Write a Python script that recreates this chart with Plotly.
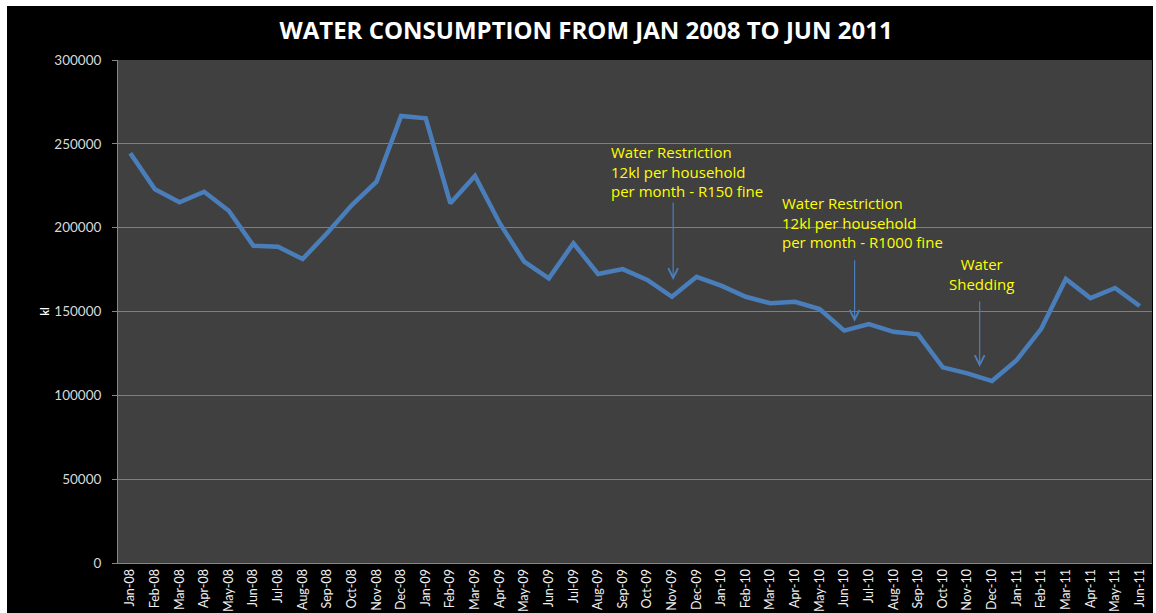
import plotly.graph_objects as go

# Monthly water consumption (kl)
months = [
    "Jan-08", "Feb-08", "Mar-08", "Apr-08", "May-08", "Jun-08", "Jul-08", "Aug-08",
    "Sep-08", "Oct-08", "Nov-08", "Dec-08", "Jan-09", "Feb-09", "Mar-09", "Apr-09",
    "May-09", "Jun-09", "Jul-09", "Aug-09", "Sep-09", "Oct-09", "Nov-09", "Dec-09",
    "Jan-10", "Feb-10", "Mar-10", "Apr-10", "May-10", "Jun-10", "Jul-10", "Aug-10",
    "Sep-10", "Oct-10", "Nov-10", "Dec-10", "Jan-11", "Feb-11", "Mar-11", "Apr-11",
    "May-11", "Jun-11",
]
consumption = [
    244400, 222900, 215100, 221400, 210100, 189200, 188600, 181300,
    196800, 213500, 227400, 266600, 265200, 214500, 230800, 202800,
    179700, 169800, 190700, 172400, 175300, 168800, 158800, 170700,
    165400, 158800, 154900, 155800, 151500, 138600, 142500, 137900,
    136400, 116700, 113100, 108500, 121000, 139700, 169400, 158000,
    164000, 153300,
]
y_ticks = [0, 50000, 100000, 150000, 200000, 250000, 300000]

# Event notes: (text, text x index, text y, anchor, arrow tip x index, tip y, arrow length px)
events = [
    ("Water Restriction<br>12kl per household<br>per month - R150 fine",
     19.46, 233500, "left", 22.05, 168800, 78),
    ("Water Restriction<br>12kl per household<br>per month - R1000 fine",
     26.37, 202800, "left", 29.42, 143900, 62),
    ("Water<br>Shedding",
     34.58, 172100, "center", 34.5, 116900, 66),
]

FONT = "Lato, 'Open Sans', sans-serif"
NOTE_FONT = "'Open Sans', Lato, sans-serif"
LINE_BLUE = "#4a7ebb"

fig = go.Figure()
fig.add_trace(go.Scatter(
    x=months, y=consumption, mode="lines",
    line=dict(color=LINE_BLUE, width=4.5),
    hoverinfo="x+y", showlegend=False,
))

W, H = 1156, 613
L, R, T, B = 118, 4, 60, 50
pw, ph = W - L - R, H - T - B

annotations = []
for text, tx, ty, anchor, ax_i, ay_v, alen in events:
    annotations.append(dict(
        x=tx, y=ty, xref="x", yref="y", text=text, showarrow=False,
        xanchor=anchor, yanchor="middle", align=anchor,
        font=dict(family=NOTE_FONT, size=15, color="#ffff00"),
    ))
    annotations.append(dict(
        x=ax_i, y=ay_v, xref="x", yref="y", text="", showarrow=True,
        ax=0, ay=-alen, arrowhead=5, arrowsize=1.6, arrowwidth=1.2,
        arrowcolor=LINE_BLUE, font=dict(size=1), borderpad=0,
    ))

# white frame strips around the black chart area
def px_rect(x0, y0, x1, y1):
    return dict(
        type="rect", xref="paper", yref="paper", layer="above",
        x0=(x0 - L) / pw, x1=(x1 - L) / pw,
        y0=(H - B - y1) / ph, y1=(H - B - y0) / ph,
        fillcolor="white", line=dict(width=0),
    )

shapes = [
    px_rect(0, 0, W, 6),
    px_rect(0, 0, 7, H),
    px_rect(1153, 0, W, H),
]

fig.update_layout(
    width=W, height=H,
    margin=dict(l=L, r=R, t=T, b=B, pad=0),
    paper_bgcolor="black",
    plot_bgcolor="#404040",
    font=dict(family=FONT, color="#e6e6e6"),
    title=dict(
        text="<b>WATER CONSUMPTION FROM JAN 2008 TO JUN 2011</b>",
        x=0.507, xanchor="center", y=1 - 31 / H, yanchor="middle",
        yref="container", xref="container",
        font=dict(family="'Open Sans', Lato, sans-serif", size=24, color="white"),
    ),
    xaxis=dict(
        type="category", tickangle=-90, showgrid=False, automargin=False,
        showline=True, linecolor="#868686", linewidth=1,
        ticks="",
        tickfont=dict(size=12.5, color="#f0f0f0"),
        range=[-0.5, len(months) - 0.5],
    ),
    yaxis=dict(
        range=[0, 300000], tickvals=y_ticks, automargin=False,
        ticktext=[str(v) for v in y_ticks], ticklabelstandoff=8,
        showgrid=True, gridcolor="#7f7f7f", gridwidth=1,
        showline=True, linecolor="#868686", linewidth=1,
        ticks="outside", ticklen=5, tickcolor="#868686",
        tickfont=dict(size=13.5, color="#d9d9d9"),
        zeroline=False,
        title=dict(text="<b>kl</b>", font=dict(size=11, color="white"), standoff=2),
    ),
    annotations=annotations,
    shapes=shapes,
)

fig.write_html("out.html")
